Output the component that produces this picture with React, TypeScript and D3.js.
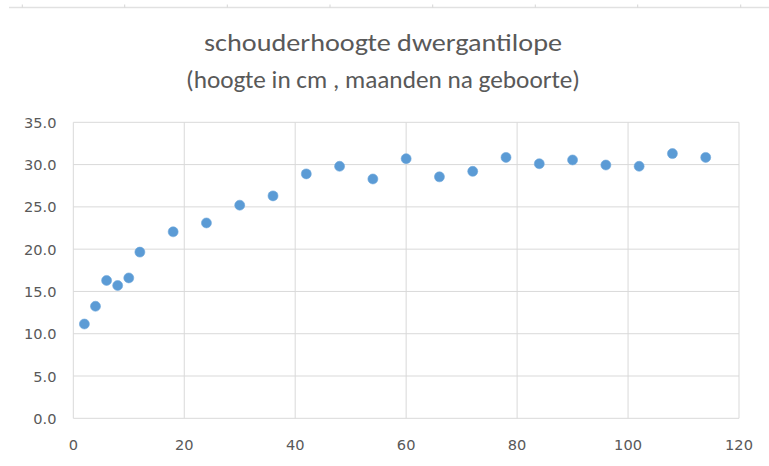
import React from "react";
import * as d3 from "d3";

const months = [2, 4, 6, 8, 10, 12, 18, 24, 30, 36, 42, 48, 54, 60, 66, 72, 78, 84, 90, 96, 102, 108, 114];
const heights = [11.15, 13.25, 16.3, 15.7, 16.6, 19.65, 22.05, 23.1, 25.2, 26.3, 28.9, 29.8, 28.3, 30.7, 28.55, 29.2, 30.85, 30.1, 30.55, 29.95, 29.8, 31.3, 30.85];
const xTicks = [0, 20, 40, 60, 80, 100, 120];
const yTicks = [0, 5, 10, 15, 20, 25, 30, 35];
const titleLines = ["schouderhoogte dwergantilope", "(hoogte in cm , maanden na geboorte)"];
const sheetCols = [22.3, 124.7, 227.3, 330, 432.7, 535.3, 637.7, 740.7];

const W = 769;
const H = 466;
const TITLE_FONT = "Carlito, Lato, 'Open Sans', sans-serif";
const TICK_FONT = "'DejaVu Sans', 'Noto Sans', sans-serif";

export default function App() {
  const x = d3.scaleLinear().domain([0, 120]).range([73.3, 739]);
  const y = d3.scaleLinear().domain([0, 35]).range([418.3, 122.3]);
  const pts = months.map((m, i) => ({ m, h: heights[i] }));
  const fmt = d3.format(".1f");
  return (
    <svg width={W} height={H} style={{ position: "absolute", left: 0, top: 0, background: "#fff" }}>
      <rect x={0} y={0} width={W} height={H} fill="#fff" />
      {/* spreadsheet column border at top */}
      <line x1={9} x2={W} y1={7.5} y2={7.5} stroke="#e1e1e1" strokeWidth={1.5} />
      {sheetCols.map((c, i) => (
        <line key={i} x1={c} x2={c} y1={4.5} y2={7.5} stroke="#d6d6d6" strokeWidth={1} />
      ))}
      {/* title */}
      <text x={383} y={51} textAnchor="middle" fontFamily={TITLE_FONT} fontSize={25} fill="#595959"
        textLength={358} lengthAdjust="spacingAndGlyphs">{titleLines[0]}</text>
      <text x={383} y={88} textAnchor="middle" fontFamily={TITLE_FONT} fontSize={25} fill="#595959"
        textLength={394} lengthAdjust="spacingAndGlyphs">{titleLines[1]}</text>
      {/* gridlines */}
      {yTicks.map((t) => (
        <line key={"gy" + t} x1={x(0)} x2={x(120)} y1={y(t)} y2={y(t)} stroke="#d9d9d9" strokeWidth={1} />
      ))}
      {xTicks.map((t) => (
        <line key={"gx" + t} x1={x(t)} x2={x(t)} y1={y(0)} y2={y(35)} stroke="#d9d9d9" strokeWidth={1} />
      ))}
      {/* axis labels */}
      {yTicks.map((t) => (
        <text key={"ly" + t} x={56.5} y={y(t) + 5.5} textAnchor="end" fontFamily={TICK_FONT} fontSize={14.6} fill="#595959">
          {fmt(t)}
        </text>
      ))}
      {xTicks.map((t) => (
        <text key={"lx" + t} x={x(t)} y={450} textAnchor="middle" fontFamily={TICK_FONT} fontSize={14.6} fill="#595959">
          {t}
        </text>
      ))}
      {/* points */}
      {pts.map((p, i) => (
        <circle key={i} cx={x(p.m)} cy={y(p.h)} r={5} fill="#5B9BD5" stroke="#6fa8dc" strokeWidth={0.6} />
      ))}
    </svg>
  );
}
